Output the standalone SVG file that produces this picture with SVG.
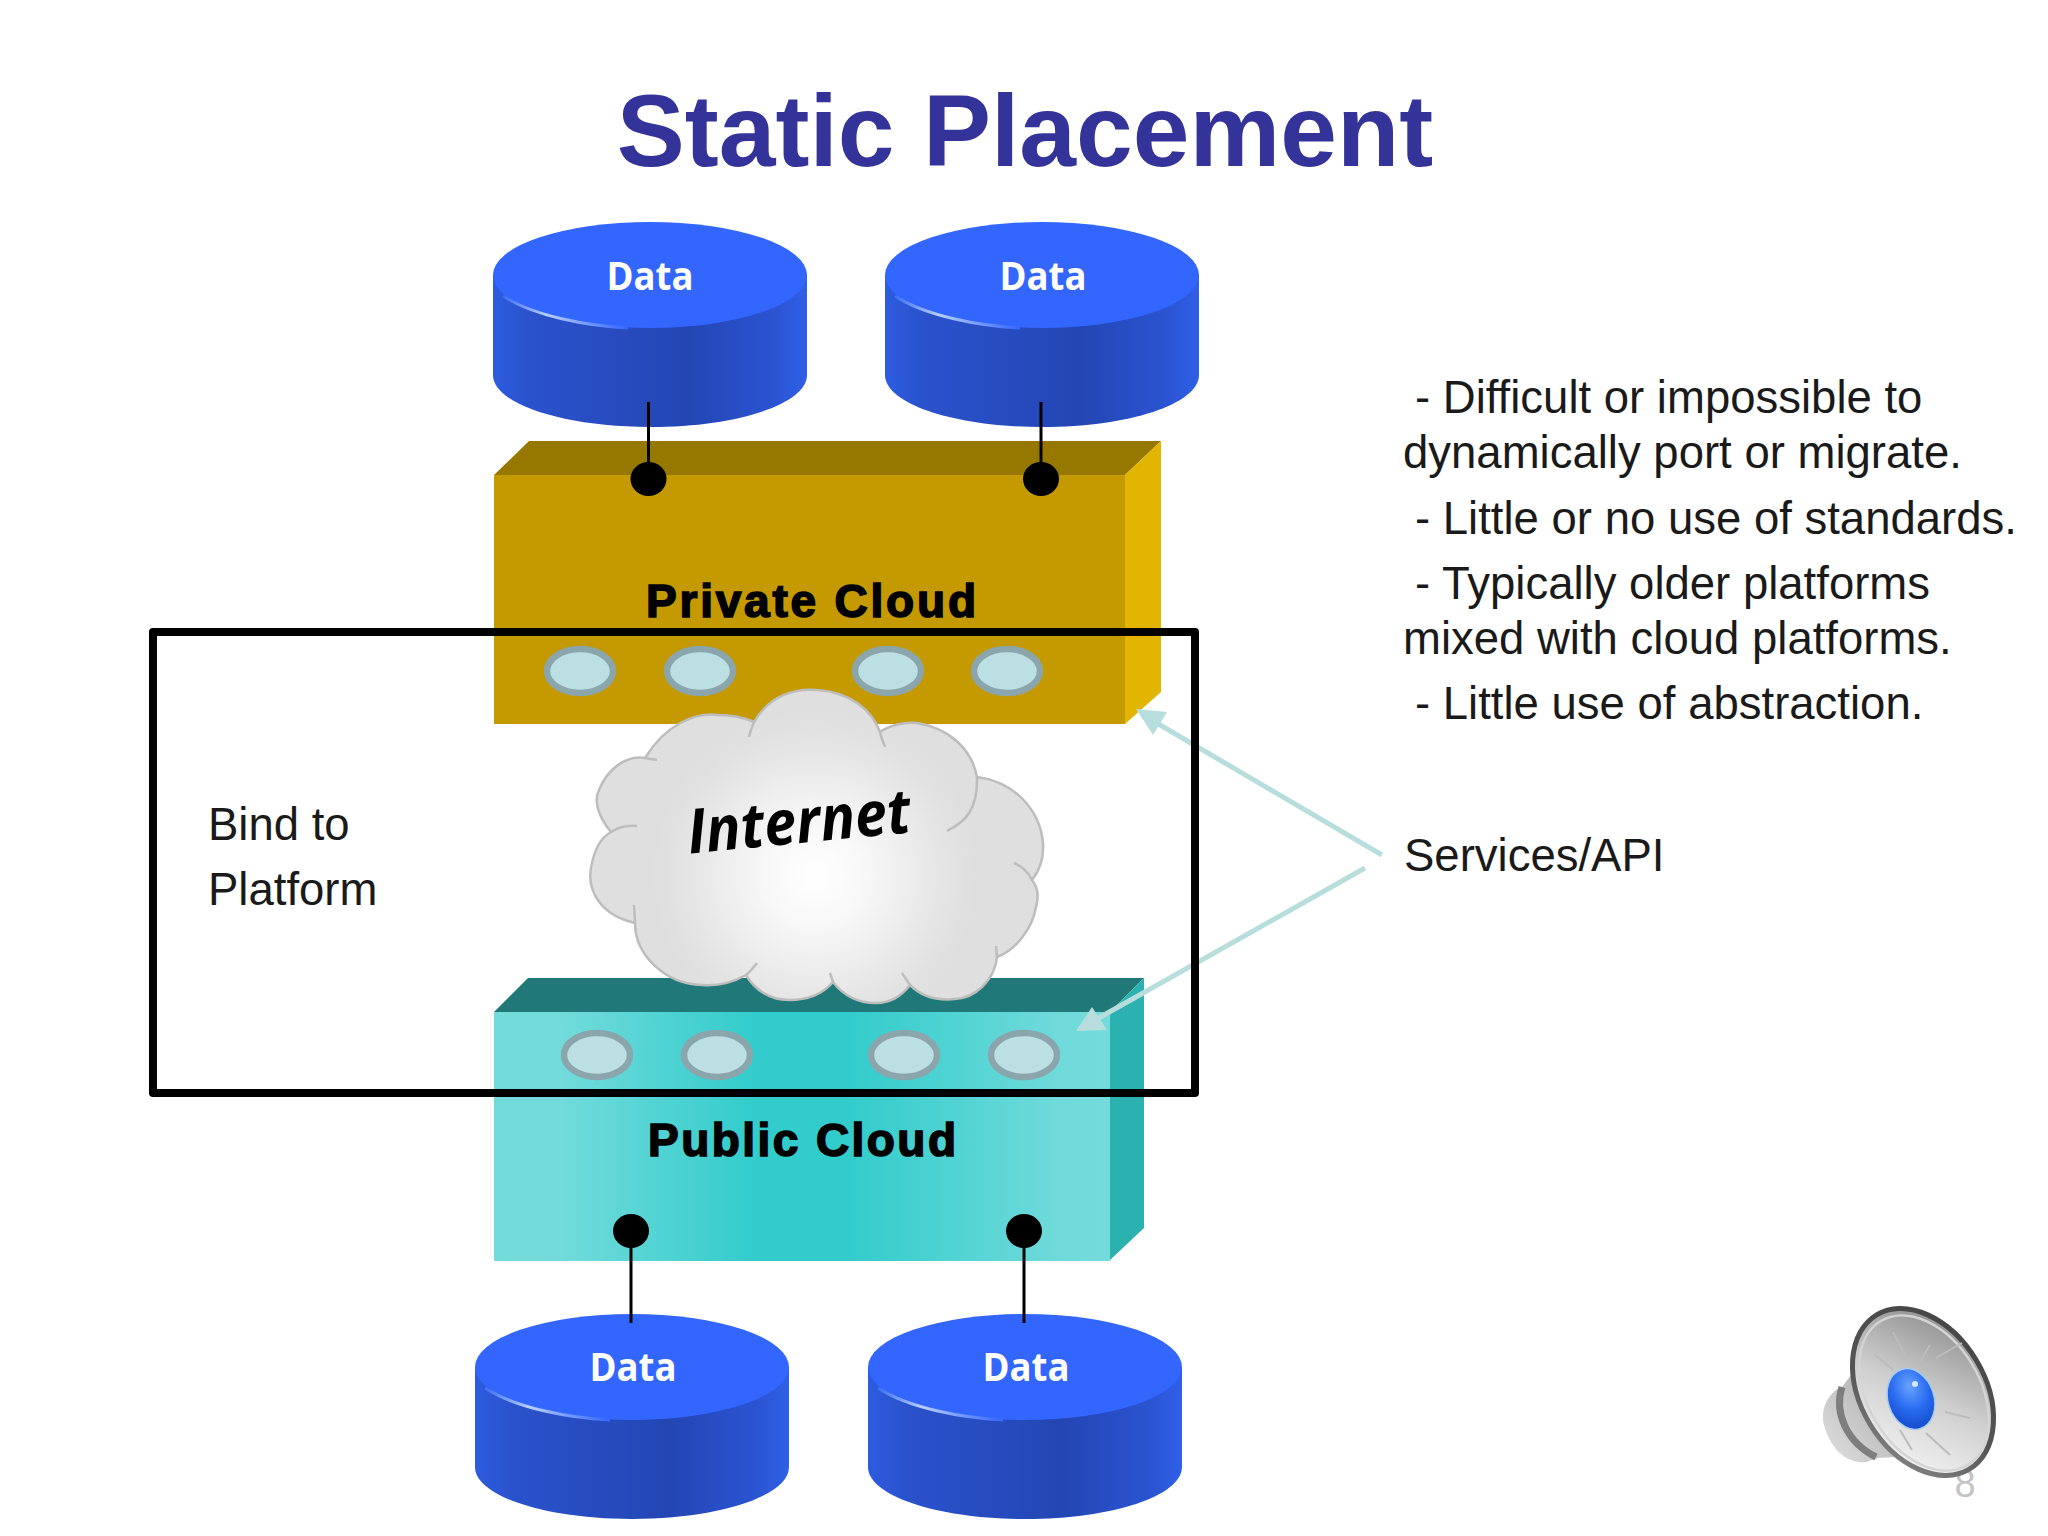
<svg xmlns="http://www.w3.org/2000/svg" width="2048" height="1536" viewBox="0 0 2048 1536">
<style>
text{font-family:"Liberation Sans",Arial,sans-serif}
.body{font-size:45.500px;fill:#1a1a1a}
.data{font-family:"Open Sans","Noto Sans",sans-serif;font-weight:700;font-size:39px;fill:#fff;text-anchor:middle}
.cl{font-weight:700;font-size:46px;fill:#000;stroke:#000;stroke-width:1.600px}
.port{stroke:#8aa6ac;stroke-width:6.500;fill:#bbdfe2}
.link{stroke:#000;stroke-width:3;fill:none}
.arrow{stroke:#b7dedd;stroke-width:5;fill:none}
.head{fill:#b7dedd}
.curl{fill:none;stroke:#bdbdbd;stroke-width:2.5}
</style>
<defs>
<linearGradient id="cylSide" x1="0" x2="1" y1="0" y2="0"><stop offset="0" stop-color="#2d5ce0"/><stop offset=".12" stop-color="#2a52cc"/><stop offset=".62" stop-color="#2446b4"/><stop offset=".9" stop-color="#2b54d2"/><stop offset="1" stop-color="#2f60e8"/></linearGradient>
<linearGradient id="hl" x1="0" x2="1" y1="0" y2="0"><stop offset="0" stop-color="#3d6ff0"/><stop offset=".35" stop-color="#b8d0ff"/><stop offset="1" stop-color="#3366ff"/></linearGradient>
<linearGradient id="pubFront" x1="0" x2="1" y1="0" y2="0"><stop offset="0" stop-color="#74dbdb"/><stop offset=".1" stop-color="#74dbdb"/><stop offset=".42" stop-color="#33cccc"/><stop offset=".58" stop-color="#33cccc"/><stop offset=".92" stop-color="#70dada"/><stop offset="1" stop-color="#74dbdb"/></linearGradient>
<radialGradient id="cloudFill" gradientUnits="userSpaceOnUse" cx="815" cy="875" r="165"><stop offset="0" stop-color="#fff"/><stop offset=".3" stop-color="#f8f8f8"/><stop offset=".85" stop-color="#e2e2e2"/><stop offset="1" stop-color="#dfdfdf"/></radialGradient>
<linearGradient id="cone" x1=".1" y1=".1" x2=".9" y2=".95"><stop offset="0" stop-color="#8e8e8e"/><stop offset=".5" stop-color="#cfcfcf"/><stop offset="1" stop-color="#f6f6f6"/></linearGradient>
<linearGradient id="rim" x1=".1" y1="0" x2=".9" y2="1"><stop offset="0" stop-color="#444"/><stop offset=".6" stop-color="#555"/><stop offset="1" stop-color="#8a8a8a"/></linearGradient>
<radialGradient id="dome" cx=".55" cy=".3" r=".75"><stop offset="0" stop-color="#6aa2ff"/><stop offset=".5" stop-color="#2a6df0"/><stop offset="1" stop-color="#1248c8"/></radialGradient>
<linearGradient id="back" x1="0" x2="1" y1="1" y2="0"><stop offset="0" stop-color="#e2e2e2"/><stop offset="1" stop-color="#a6a6a6"/></linearGradient>
<g id="cyl">
<path d="M0 53V153C0 182 70 205 157 205S314 182 314 153V53Z" fill="url(#cylSide)"/>
<ellipse cx="157" cy="53" rx="157" ry="53" fill="#3366ff"/>
<path d="M10 74C40 94 95 104 135 106" fill="none" stroke="url(#hl)" stroke-width="3"/>
</g>
</defs>
<rect width="2048" height="1536" fill="#fff"/>
<text id="title" x="1025" y="166" font-size="102" font-weight="700" fill="#333399" text-anchor="middle">Static Placement</text>

<g id="private-cloud">
<path d="M494 475L529 441H1161L1125 475Z" fill="#967800"/>
<path d="M1125 475L1161 441V692L1125 724Z" fill="#e2b500"/>
<rect x="494" y="475" width="631" height="249" fill="#c49a00"/>
<text class="cl" x="646" y="617" textLength="330" lengthAdjust="spacing">Private Cloud</text>
<ellipse class="port" cx="580" cy="671" rx="33" ry="22"/>
<ellipse class="port" cx="700" cy="671" rx="33" ry="22"/>
<ellipse class="port" cx="888" cy="671" rx="33" ry="22"/>
<ellipse class="port" cx="1007" cy="671" rx="33" ry="22"/>
</g>

<g id="public-cloud">
<path d="M494 1012L528 978H1144L1110 1012Z" fill="#207878"/>
<path d="M1110 1012L1144 978V1228L1110 1260Z" fill="#2cb1b1"/>
<rect x="494" y="1012" width="616" height="249" fill="url(#pubFront)"/>
<text class="cl" x="648" y="1156" textLength="308" lengthAdjust="spacing">Public Cloud</text>
<ellipse class="port" cx="597" cy="1055" rx="33" ry="22"/>
<ellipse class="port" cx="717" cy="1055" rx="33" ry="22"/>
<ellipse class="port" cx="904" cy="1055" rx="33" ry="22"/>
<ellipse class="port" cx="1024" cy="1055" rx="33" ry="22"/>
</g>

<g id="data-top-left"><use href="#cyl" x="493" y="222"/><text class="data" x="650" y="290" textLength="87" lengthAdjust="spacingAndGlyphs">Data</text></g>
<g id="data-top-right"><use href="#cyl" x="885" y="222"/><text class="data" x="1043" y="290" textLength="87" lengthAdjust="spacingAndGlyphs">Data</text></g>
<g id="data-bottom-left"><use href="#cyl" x="475" y="1314"/><text class="data" x="633" y="1381" textLength="87" lengthAdjust="spacingAndGlyphs">Data</text></g>
<g id="data-bottom-right"><use href="#cyl" x="868" y="1314"/><text class="data" x="1026" y="1381" textLength="87" lengthAdjust="spacingAndGlyphs">Data</text></g>

<g id="internet">
<path d="M635 923C600 915 587 890 591 868C594 850 600 838 611 832C597 815 594 800 599 790C607 770 625 755 645 758C665 725 695 712 718 715C730 715 745 718 754 722C770 695 795 688 817 690C850 692 872 710 880 732C890 725 905 722 916 723C950 728 972 750 977 777C1015 782 1040 810 1043 843C1044 858 1040 870 1032 880C1040 890 1038 900 1036 907C1032 930 1015 950 997 957C995 980 975 998 955 999C935 1001 920 995 910 985C900 998 888 1003 876 1003C858 1003 843 995 833 982C822 995 805 1000 789 1000C770 1000 755 990 746 975C730 984 715 986 702 985C665 984 635 955 635 923Z" fill="url(#cloudFill)" stroke="#bdbdbd" stroke-width="2.5"/>
<path class="curl" d="M645 758L657 760M749 737C750 732 752 727 754 722M880 732C881 739 885 745 885 747M977 777C978 810 965 822 947 831M1032 880C1028 872 1022 866 1014 863M997 957L996 946M611 832C620 826 628 825 637 826M635 923L634 905M757 963C753 968 750 972 746 975M830 973L833 982M902 973L910 985"/>
<text x="799" y="843" transform="rotate(-5.500 799 823)" font-size="62" font-weight="700" font-style="italic" text-anchor="middle" fill="#000" textLength="224" lengthAdjust="spacingAndGlyphs" style="font-family:'Open Sans','Noto Sans',sans-serif">Internet</text>
</g>

<g id="connectors">
<path class="link" d="M648.500 402V479M1041 402V479M631 1231V1323M1024 1231V1323"/>
<ellipse cx="648.500" cy="479" rx="18" ry="17"/>
<ellipse cx="1041" cy="479" rx="18" ry="17"/>
<ellipse cx="631" cy="1231" rx="18" ry="17"/>
<ellipse cx="1024" cy="1231" rx="18" ry="17"/>
<path class="arrow" d="M1382 855L1155 722M1365 868L1097 1019"/>
<path class="head" d="M1136 709L1167 712L1153 735Z"/>
<path class="head" d="M1076 1031L1107 1030L1092 1007Z"/>
</g>

<rect id="bind-frame" x="153" y="632" width="1042" height="461" fill="none" stroke="#000" stroke-width="8" stroke-linejoin="round"/>
<g id="bind-label">
<text class="body" x="208" y="840">Bind to</text>
<text class="body" x="208" y="905">Platform</text>
</g>

<g id="notes">
<text class="body" x="1415" y="413">- Difficult or impossible to</text>
<text class="body" x="1403" y="468">dynamically port or migrate.</text>
<text class="body" x="1415" y="534">- Little or no use of standards.</text>
<text class="body" x="1415" y="599">- Typically older platforms</text>
<text class="body" x="1403" y="654">mixed with cloud platforms.</text>
<text class="body" x="1415" y="719">- Little use of abstraction.</text>
</g>
<text id="services-label" class="body" x="1404" y="871">Services/API</text>

<text id="page-number" x="1965" y="1497" font-size="38" fill="#c4c4c4" text-anchor="middle">8</text>
<g id="speaker">
<path d="M1855 1370L1842 1387C1828 1392 1820 1410 1824 1425C1830 1448 1846 1464 1866 1462L1878 1458L1895 1457Z" fill="url(#back)"/>
<path d="M1842 1387C1834 1412 1846 1442 1876 1457" fill="none" stroke="#7e7e7e" stroke-width="7"/>
<ellipse cx="1923" cy="1392" rx="90" ry="62" transform="rotate(59 1923 1392)" fill="url(#cone)" stroke="url(#rim)" stroke-width="5"/>
<ellipse cx="1924" cy="1393" rx="84" ry="56" transform="rotate(59 1924 1393)" fill="none" stroke="#d4d4d4" stroke-width="2.500"/>
<g stroke="#bcbcbc" stroke-width="2" fill="none">
<path d="M1936 1358L1962 1343M1945 1412L1970 1418M1926 1433L1950 1455M1900 1430L1912 1450M1893 1370L1875 1355M1905 1355L1893 1332M1920 1362L1930 1345"/>
</g>
<ellipse cx="1911" cy="1399" rx="23" ry="31" transform="rotate(-18 1911 1399)" fill="url(#dome)" stroke="#a6cbf0" stroke-width="1.500"/>
<circle cx="1915" cy="1384" r="3" fill="#d5e8ff"/>
</g>
</svg>
